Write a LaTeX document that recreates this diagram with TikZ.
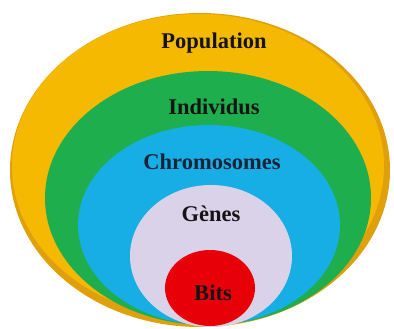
\documentclass[tikz,border=0pt]{standalone}
\usepackage{fontspec}
\setmainfont{Liberation Serif}
\definecolor{popY}{HTML}{F5B902}
\definecolor{popD}{HTML}{E0A00C}
\definecolor{indG}{HTML}{1FAE4E}
\definecolor{chrB}{HTML}{17AEE6}
\definecolor{genL}{HTML}{DAD2E9}
\definecolor{bitR}{HTML}{E80008}
\definecolor{txt}{HTML}{141414}
\definecolor{txtB}{HTML}{1A2236}
\tikzset{
  lbl/.style={font=\bfseries\fontsize{22.5}{26}\selectfont, text=txt, inner sep=0pt},
  layer/.style={draw=none}
}
\begin{document}
\begin{tikzpicture}[x=1pt,y=-1pt]
\useasboundingbox (0,0) rectangle (394,329);
\fill[white] (0,0) rectangle (394,329);
\fill[layer, popD] (200,170) ellipse [x radius=190, y radius=157];
\fill[layer, popY] (198,166) ellipse [x radius=186, y radius=152];
\fill[layer, indG] (208,198) ellipse [x radius=163, y radius=127];
\fill[layer, chrB] (209,225) ellipse [x radius=131, y radius=100];
\fill[layer, genL] (211,256) ellipse [x radius=81, y radius=71];
\fill[layer, bitR] (210,288) ellipse [x radius=45, y radius=38];
\node[lbl] (pop) at (214,43) {Population};
\node[lbl] (ind) at (214,107) {Individus};
\node[lbl, text=txtB] (chr) at (212,162) {Chromosomes};
\node[lbl] (gen) at (211,214) {Gènes};
\node[lbl] (bit) at (213,293) {Bits};
\end{tikzpicture}
\end{document}
